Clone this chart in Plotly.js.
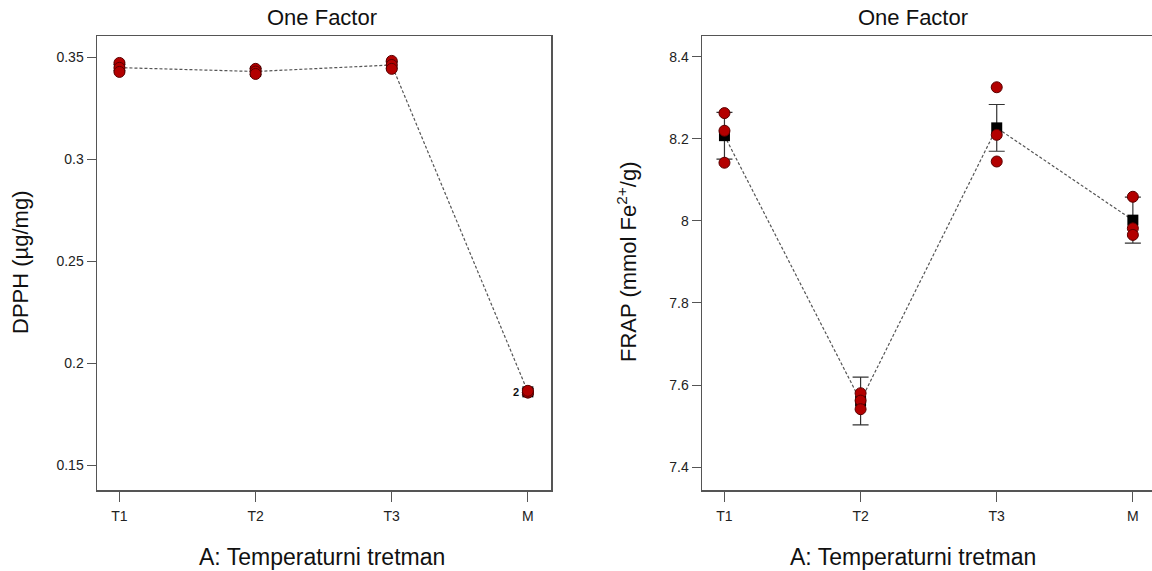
<!DOCTYPE html>
<html>
<head>
<meta charset="utf-8">
<script src="https://cdn.plot.ly/plotly-3.0.1.min.js"></script>
<style>
html,body{margin:0;padding:0;overflow:hidden;background:#fff;}
#chart{width:1158px;height:571px;}
</style>
</head>
<body>
<div id="chart"></div>
<script>
// ---- data ----
const categories = ['T1', 'T2', 'T3', 'M'];
const catIndex = [0, 1, 2, 3];

// DPPH (µg/mg): replicate points per treatment
const dpphT1 = [0.3473, 0.3449, 0.3429];
const dpphT2 = [0.3444, 0.3431, 0.3419];
const dpphT3 = [0.3483, 0.3463, 0.3444];
const dpphM  = [0.1858, 0.1858, 0.1866];
const dpphMean = [0.3450, 0.3431, 0.3463, 0.1861];
const dpphErr  = [0.0015, 0.0015, 0.0015, 0.0015];

// FRAP (mmol Fe2+/g): replicate points per treatment
const frapT1 = [8.263, 8.220, 8.142];
const frapT2 = [7.580, 7.562, 7.541];
const frapT3 = [8.326, 8.210, 8.145];
const frapM  = [8.059, 7.982, 7.966];
const frapMean = [8.208, 7.561, 8.227, 8.002];
const frapErr  = [0.057, 0.058, 0.057, 0.056];

const dpphTicks = [0.15, 0.2, 0.25, 0.3, 0.35];
const frapTicks = [7.4, 7.6, 7.8, 8, 8.2, 8.4];

// ---- helpers ----
function repTrace(groups, xa, ya) {
  const xs = [], ys = [];
  groups.forEach((g, i) => g.forEach(v => { xs.push(catIndex[i]); ys.push(v); }));
  return {
    x: xs, y: ys, xaxis: xa, yaxis: ya, type: 'scatter', mode: 'markers',
    marker: {symbol: 'circle', size: 11, color: '#b30000', line: {color: '#5a0000', width: 1}},
    hoverinfo: 'skip', showlegend: false
  };
}
function lineTrace(means, xa, ya) {
  return {
    x: catIndex, y: means, xaxis: xa, yaxis: ya, type: 'scatter', mode: 'lines',
    line: {color: '#555', width: 1.2, dash: '3px,2px'}, hoverinfo: 'skip', showlegend: false
  };
}
function meanTrace(means, errs, xa, ya, capW) {
  return {
    x: catIndex, y: means, xaxis: xa, yaxis: ya, type: 'scatter', mode: 'markers',
    marker: {symbol: 'square', size: 11, color: '#000'},
    error_y: {type: 'data', array: errs, visible: true, color: '#333', thickness: 1.2, width: capW},
    hoverinfo: 'skip', showlegend: false
  };
}

const data = [
  lineTrace(dpphMean, 'x', 'y'),
  meanTrace(dpphMean, dpphErr, 'x', 'y', 6),
  repTrace([dpphT1, dpphT2, dpphT3, dpphM], 'x', 'y'),
  lineTrace(frapMean, 'x2', 'y2'),
  meanTrace(frapMean, frapErr, 'x2', 'y2', 8),
  repTrace([frapT1, frapT2, frapT3, frapM], 'x2', 'y2')
];

const W = 1158, H = 571;
const px = v => v / W;
const py = v => 1 - v / H;

const tickFont = {family: 'Liberation Sans, Arial, sans-serif', size: 14, color: '#222'};
const axisCommon = {
  showline: true, mirror: true, linecolor: '#555', linewidth: 1.5,
  ticks: 'outside', ticklen: 9, tickcolor: '#555', tickwidth: 1,
  showgrid: false, zeroline: false, tickfont: tickFont
};
const xRange = [-0.165, 3.17];

const titleFont = {family: 'Liberation Sans, Arial, sans-serif', size: 22, color: '#111'};
const xTitleFont = {family: 'Liberation Sans, Arial, sans-serif', size: 23, color: '#111'};

const layout = {
  width: W, height: H,
  margin: {l: 0, r: 0, t: 0, b: 0},
  paper_bgcolor: '#fff', plot_bgcolor: '#fff',
  showlegend: false,
  xaxis: Object.assign({}, axisCommon, {
    domain: [px(97), px(551)], range: xRange, tickvals: catIndex, ticktext: categories,
    anchor: 'y', ticklen: 10, ticklabelstandoff: 3
  }),
  yaxis: Object.assign({}, axisCommon, {
    domain: [py(490), py(36)], range: [0.138, 0.3605], tickvals: dpphTicks, anchor: 'x'
  }),
  xaxis2: Object.assign({}, axisCommon, {
    domain: [px(702), px(1156)], range: xRange, tickvals: catIndex, ticktext: categories,
    anchor: 'y2', ticklen: 10, ticklabelstandoff: 3
  }),
  yaxis2: Object.assign({}, axisCommon, {
    domain: [py(490), py(36)], range: [7.344, 8.451], tickvals: frapTicks, anchor: 'x2'
  }),
  annotations: [
    {text: 'One Factor', xref: 'paper', yref: 'paper', x: px(322), y: py(18), showarrow: false, font: titleFont, xanchor: 'center', yanchor: 'middle'},
    {text: 'One Factor', xref: 'paper', yref: 'paper', x: px(913), y: py(18), showarrow: false, font: titleFont, xanchor: 'center', yanchor: 'middle'},
    {text: 'A: Temperaturni tretman', xref: 'paper', yref: 'paper', x: px(322), y: py(557), showarrow: false, font: xTitleFont, xanchor: 'center', yanchor: 'middle'},
    {text: 'A: Temperaturni tretman', xref: 'paper', yref: 'paper', x: px(913), y: py(557), showarrow: false, font: xTitleFont, xanchor: 'center', yanchor: 'middle'},
    {text: 'DPPH (µg/mg)', xref: 'paper', yref: 'paper', x: px(20), y: py(263), textangle: -90, showarrow: false, font: titleFont, xanchor: 'center', yanchor: 'middle'},
    {text: 'FRAP (mmol Fe<sup>2+</sup>/g)', xref: 'paper', yref: 'paper', x: px(627), y: py(262), textangle: -90, showarrow: false, font: titleFont, xanchor: 'center', yanchor: 'middle'},
    {text: '<b>2</b>', xref: 'x', yref: 'y', x: catIndex[3], y: dpphM[0], xshift: -12, showarrow: false,
     font: {family: 'Liberation Sans, Arial, sans-serif', size: 11, color: '#111'}, xanchor: 'center', yanchor: 'middle'}
  ]
};

Plotly.newPlot('chart', data, layout, {displayModeBar: false, staticPlot: true});
</script>
</body>
</html>
